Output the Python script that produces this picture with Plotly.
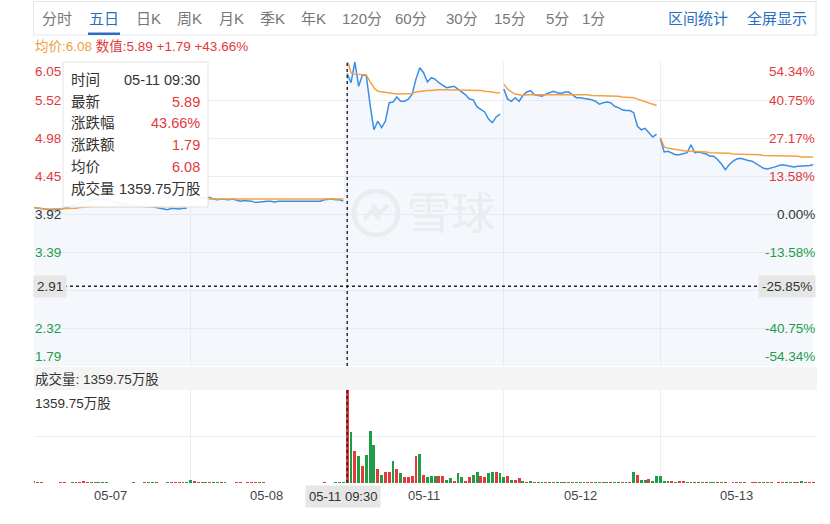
import plotly.graph_objects as go

W, H = 830, 524

# ---------------- data ----------------
days = ["05-07", "05-08", "05-11", "05-12", "05-13"]
prev_close = 3.92          # base of the percentage scale
N_PER_DAY = 41             # one sample every 6 minutes, 09:30 .. 15:00

price_0507 = [4.01, 4.00, 3.99, 3.98, 3.98, 3.98, 3.98, 3.99, 4.00, 4.02,
              4.03, 4.06, 4.07, 4.09, 4.10, 4.12, 4.12, 4.13, 4.12, 4.12,
              4.10, 4.09, 4.07, 4.06, 4.05, 4.04, 4.03, 4.03, 4.03, 4.03,
              4.02, 4.02, 4.01, 4.00, 3.98, 3.98, 4.00, 3.99, 3.99, 4.00, 4.00]
avg_0507 = [4.01, 4.00, 4.00, 3.99, 3.99, 3.99, 3.99, 3.99, 3.99, 3.99,
            4.00, 4.00, 4.01, 4.01, 4.02, 4.02, 4.03, 4.03, 4.03, 4.03,
            4.03, 4.03, 4.03, 4.03, 4.03, 4.03, 4.03, 4.03, 4.03, 4.03,
            4.03, 4.03, 4.02, 4.02, 4.02, 4.02, 4.02, 4.02, 4.02, 4.02, 4.02]

price_0508 = [4.13, 4.14, 4.14, 4.15, 4.15, 4.15, 4.13, 4.12, 4.13, 4.12,
              4.12, 4.13, 4.12, 4.10, 4.11, 4.11, 4.10, 4.08, 4.09, 4.10,
              4.10, 4.10, 4.09, 4.10, 4.10, 4.09, 4.09, 4.09, 4.10, 4.10,
              4.10, 4.10, 4.10, 4.10, 4.10, 4.12, 4.13, 4.13, 4.12, 4.12, 4.10]
avg_0508 = [4.13, 4.13, 4.14, 4.14, 4.14, 4.14, 4.14, 4.14, 4.14, 4.14,
            4.14, 4.14, 4.14, 4.14, 4.14, 4.13, 4.13, 4.13, 4.13, 4.13,
            4.13, 4.13, 4.13, 4.13, 4.13, 4.13, 4.13, 4.13, 4.13, 4.13,
            4.13, 4.13, 4.13, 4.13, 4.13, 4.13, 4.13, 4.13, 4.13, 4.13, 4.13]

price_0511 = [5.89, 5.76, 6.05, 5.71, 5.87, 5.86, 5.45, 5.10, 5.22, 5.13,
              5.22, 5.48, 5.49, 5.56, 5.50, 5.50, 5.53, 5.60, 5.81, 5.97,
              5.90, 5.77, 5.83, 5.81, 5.76, 5.73, 5.69, 5.70, 5.71, 5.67,
              5.63, 5.59, 5.53, 5.52, 5.42, 5.38, 5.35, 5.25, 5.20, 5.28, 5.32]
avg_0511 = [6.08, 5.90, 5.88, 5.88, 5.87, 5.87, 5.77, 5.69, 5.64, 5.63,
            5.62, 5.62, 5.61, 5.60, 5.60, 5.60, 5.60, 5.61, 5.63, 5.64,
            5.64, 5.65, 5.65, 5.66, 5.66, 5.66, 5.66, 5.66, 5.66, 5.66,
            5.66, 5.66, 5.65, 5.65, 5.65, 5.65, 5.64, 5.64, 5.63, 5.62, 5.62]

price_0512 = [5.67, 5.53, 5.50, 5.55, 5.50, 5.58, 5.63, 5.65, 5.59, 5.58,
              5.57, 5.60, 5.62, 5.64, 5.62, 5.61, 5.63, 5.63, 5.59, 5.55,
              5.55, 5.54, 5.54, 5.52, 5.50, 5.46, 5.48, 5.49, 5.48, 5.43,
              5.41, 5.38, 5.37, 5.37, 5.34, 5.15, 5.10, 5.12, 5.06, 5.00, 5.04]
avg_0512 = [5.74, 5.67, 5.63, 5.60, 5.59, 5.58, 5.59, 5.59, 5.60, 5.60,
            5.60, 5.60, 5.60, 5.59, 5.59, 5.59, 5.59, 5.59, 5.59, 5.59,
            5.59, 5.59, 5.59, 5.58, 5.58, 5.58, 5.58, 5.58, 5.58, 5.57,
            5.57, 5.56, 5.56, 5.56, 5.55, 5.53, 5.51, 5.49, 5.47, 5.45, 5.44]

price_0513 = [4.97, 4.79, 4.80, 4.77, 4.75, 4.75, 4.76, 4.78, 4.89, 4.78,
              4.79, 4.78, 4.76, 4.73, 4.73, 4.68, 4.62, 4.54, 4.61, 4.66,
              4.69, 4.70, 4.68, 4.67, 4.66, 4.63, 4.60, 4.56, 4.55, 4.56,
              4.58, 4.60, 4.61, 4.60, 4.59, 4.58, 4.59, 4.59, 4.59, 4.60, 4.61]
avg_0513 = [4.99, 4.86, 4.84, 4.83, 4.82, 4.82, 4.81, 4.80, 4.80, 4.80,
            4.79, 4.79, 4.79, 4.78, 4.78, 4.78, 4.77, 4.77, 4.77, 4.76,
            4.76, 4.76, 4.76, 4.75, 4.75, 4.75, 4.75, 4.74, 4.74, 4.74,
            4.74, 4.74, 4.73, 4.73, 4.73, 4.73, 4.73, 4.72, 4.72, 4.72, 4.72]

# volume in 万股, and whether the interval closed up (1) or down (0)
vol_0507 = [25, 20, 8, 6, 5, 5, 6, 8, 10, 6, 8, 12, 22, 28, 20, 10, 8, 14, 18, 14,
            6, 5, 6, 5, 4, 6, 8, 5, 6, 10, 12, 8, 10, 6, 5, 8, 12, 16, 20, 18, 14]
up_0507 = [1, 0, 1, 0, 0, 1, 0, 1, 1, 1, 0, 1, 1, 1, 1, 0, 1, 0, 0, 0,
           0, 0, 1, 0, 1, 0, 0, 1, 0, 1, 0, 0, 1, 0, 1, 0, 1, 1, 1, 1, 0]
vol_0508 = [40, 30, 12, 8, 10, 8, 14, 18, 12, 8, 6, 5, 8, 10, 6, 12, 16, 18, 14, 8,
            6, 5, 4, 6, 5, 4, 5, 6, 4, 5, 4, 6, 5, 4, 6, 8, 6, 5, 10, 14, 18]
up_0508 = [0, 1, 0, 1, 0, 1, 0, 0, 1, 0, 1, 0, 1, 1, 0, 1, 1, 1, 0, 1,
           0, 1, 0, 1, 0, 1, 0, 1, 0, 1, 1, 0, 1, 0, 1, 1, 0, 1, 0, 0, 0]
vol_0511 = [1359.75, 741, 472, 395, 249, 409, 765, 556, 200, 117,
            156, 156, 326, 200, 151, 85, 92, 97, 390, 429,
            122, 88, 107, 107, 97, 107, 49, 73, 24, 146,
            88, 24, 88, 122, 156, 97, 88, 146, 161, 161, 146]
up_0511 = [1, 0, 1, 0, 1, 0, 0, 0, 1, 0, 1, 1, 0, 1, 0, 1, 1, 1, 1, 0,
           1, 0, 0, 0, 1, 1, 0, 0, 1, 0, 0, 1, 1, 0, 0, 1, 1, 0, 0, 1, 0]
vol_0512 = [88, 107, 49, 40, 75, 24, 20, 24, 18, 22, 15, 12, 10, 14, 18, 12, 10, 8, 12, 15,
            12, 10, 8, 10, 14, 18, 12, 10, 8, 12, 14, 10, 12, 15, 156, 122, 49, 49, 55, 30, 97]
up_0512 = [0, 1, 0, 1, 1, 0, 1, 0, 1, 0, 0, 1, 0, 1, 0, 0, 1, 0, 1, 0,
           0, 1, 0, 1, 0, 0, 1, 0, 1, 0, 0, 1, 0, 1, 0, 1, 0, 0, 1, 0, 0]
vol_0513 = [97, 34, 25, 25, 20, 30, 30, 18, 15, 12, 20, 15, 10, 8, 12, 14, 10, 8, 6, 8,
            10, 12, 8, 6, 10, 12, 8, 10, 12, 8, 6, 10, 12, 14, 10, 8, 12, 34, 14, 10, 12]
up_0513 = [0, 0, 0, 1, 0, 1, 1, 0, 1, 0, 1, 0, 1, 0, 0, 1, 0, 1, 0, 1,
           1, 0, 1, 0, 1, 1, 0, 1, 0, 1, 0, 1, 1, 0, 1, 0, 1, 0, 1, 1, 1]

price_ticks = [6.05, 5.5175, 4.985, 4.4525, 3.92, 3.3875, 2.855, 2.3225, 1.79]
price_tick_labels = ["6.05", "5.52", "4.98", "4.45", "3.92", "3.39", "2.86", "2.32", "1.79"]
pct_tick_labels = ["54.34%", "40.75%", "27.17%", "13.58%", "0.00%",
                   "-13.58%", "-27.17%", "-40.75%", "-54.34%"]
vol_max = 1359.75

tabs = ["分时", "五日", "日K", "周K", "月K", "季K", "年K", "120分", "60分", "30分", "15分", "5分", "1分"]
links = ["区间统计", "全屏显示"]
cursor_day, cursor_idx = 2, 0
cursor_time = "05-11 09:30"
cursor_price = 2.9067

# ---------------- assemble ----------------
prices = [price_0507, price_0508, price_0511, price_0512, price_0513]
avgs = [avg_0507, avg_0508, avg_0511, avg_0512, avg_0513]
vols = [vol_0507, vol_0508, vol_0511, vol_0512, vol_0513]
ups = [up_0507, up_0508, up_0511, up_0512, up_0513]

RED, GREEN, GRAY = "#e3393c", "#1f9c46", "#333333"
BLUE_LINE, ORANGE = "#3a8ee6", "#f5a043"
GRID = "#eceef2"
FONT = "Liberation Sans, Noto Sans CJK SC, sans-serif"
AX_FS = 13.5

def px(x):
    return x / W

def py(y):
    return 1 - y / H

L, R = 34, 817
P_TOP, P_BOT = 62, 366
V_TOP, V_BOT = 390, 483

x_all, y_all, x_line, y_line, y_avg = [], [], [], [], []
vx, vy, vc = [], [], []
for d in range(len(days)):
    for i in range(N_PER_DAY):
        xi = d * N_PER_DAY + i
        x_all.append(xi)
        y_all.append(prices[d][i])
        x_line.append(xi)
        y_line.append(prices[d][i])
        y_avg.append(avgs[d][i])
        vx.append(xi)
        vy.append(vols[d][i])
        vc.append(RED if ups[d][i] else GREEN)
    x_line.append(None)
    y_line.append(None)
    y_avg.append(None)

fig = go.Figure()
fig.add_trace(go.Scatter(x=x_all, y=y_all, mode="lines", line=dict(width=0),
                         fill="tozeroy", fillcolor="rgba(205,222,246,0.22)",
                         hoverinfo="skip", showlegend=False))
fig.add_trace(go.Scatter(x=x_line, y=y_line, mode="lines",
                         line=dict(color=BLUE_LINE, width=1.5), showlegend=False))
fig.add_trace(go.Scatter(x=x_line, y=y_avg, mode="lines",
                         line=dict(color=ORANGE, width=1.5), showlegend=False))
fig.add_trace(go.Bar(x=vx, y=vy, marker=dict(color=vc, line=dict(width=0)),
                     width=0.76, xaxis="x2", yaxis="y2", showlegend=False))

day_bounds = [N_PER_DAY * k for k in range(1, len(days))]
xr = [0, N_PER_DAY * len(days)]

fig.update_layout(
    width=W, height=H, margin=dict(l=0, r=0, t=0, b=0),
    paper_bgcolor="white", plot_bgcolor="white",
    font=dict(family=FONT, size=12, color=GRAY),
    bargap=0, hovermode=False,
    xaxis=dict(domain=[px(L), px(R)], range=xr, tickvals=day_bounds, showticklabels=False,
               showgrid=True, gridcolor=GRID, zeroline=False, showline=False, anchor="y"),
    yaxis=dict(domain=[py(P_BOT), py(P_TOP)], range=[price_ticks[-1], price_ticks[0]],
               tickvals=price_ticks, showticklabels=False, showgrid=True, gridcolor=GRID,
               zeroline=False, showline=False, anchor="x"),
    xaxis2=dict(domain=[px(L), px(R)], range=xr, tickvals=day_bounds, showticklabels=False,
                showgrid=True, gridcolor=GRID, zeroline=False, showline=False, anchor="y2"),
    yaxis2=dict(domain=[py(V_BOT), py(V_TOP)], range=[0, vol_max],
                tickvals=[0, vol_max / 2, vol_max], showticklabels=False, showgrid=True,
                gridcolor=GRID, zeroline=False, showline=False, anchor="x2"),
)

shapes = []
ann = []

# tab bar
shapes.append(dict(type="rect", xref="paper", yref="paper", x0=px(33.5), x1=px(816), y0=py(35), y1=py(1.5),
                   line=dict(color="#e3e5e8", width=1), fillcolor="white", layer="above"))
tab_x = [57, 104, 148, 189, 231, 272, 313, 362, 411, 462, 510, 557, 593]
for t, tx in zip(tabs, tab_x):
    ann.append(dict(text=t, x=px(tx), y=py(18), xref="paper", yref="paper", showarrow=False,
                    xanchor="center", yanchor="middle",
                    font=dict(size=15, color="#2a6fc4" if t == "五日" else "#777777")))
shapes.append(dict(type="rect", xref="paper", yref="paper", x0=px(88), x1=px(120), y0=py(35), y1=py(32.5),
                   line=dict(width=0), fillcolor="#2a6fc4", layer="above"))
for t, tx in zip(links, [698, 777]):
    ann.append(dict(text=t, x=px(tx), y=py(18), xref="paper", yref="paper", showarrow=False,
                    xanchor="center", yanchor="middle", font=dict(size=15, color="#2a6fc4")))

# info line
cp = prices[cursor_day][cursor_idx]
ca = avgs[cursor_day][cursor_idx]
prev_day_close = prices[cursor_day - 1][-1]
chg = cp - prev_day_close
chg_pct = chg / prev_day_close * 100
ann.append(dict(text=(f"<span style='color:#f0a040'>均价:{ca:.2f}</span> "
                      f"<span style='color:{RED}'>数值:{cp:.2f} +{chg:.2f} +{chg_pct:.2f}%</span>"),
                x=px(33), y=py(47), xref="paper", yref="paper", showarrow=False,
                xanchor="left", yanchor="middle", font=dict(size=13.5)))

# axis labels (left price, right percent)
for k, (v, lp, lr) in enumerate(zip(price_ticks, price_tick_labels, pct_tick_labels)):
    if k == 6:
        continue  # hidden under the crosshair label
    col = RED if v > prev_close else (GREEN if v < prev_close else GRAY)
    ya = "top" if k == 0 else ("bottom" if k == len(price_ticks) - 1 else "middle")
    ann.append(dict(text=lp, x=px(33), y=v, xref="paper", yref="y", showarrow=False,
                    xanchor="left", yanchor=ya, font=dict(size=AX_FS, color=col)))
    ann.append(dict(text=lr, x=px(817), y=v, xref="paper", yref="y", showarrow=False,
                    xanchor="right", yanchor=ya, font=dict(size=AX_FS, color=col)))

# date labels
for d, lab in enumerate(days):
    ann.append(dict(text=lab, x=d * N_PER_DAY + (N_PER_DAY - 1) / 2, y=py(495), xref="x2", yref="paper",
                    showarrow=False, xanchor="center", yanchor="middle", font=dict(size=13, color="#444444")))

# volume band
shapes.append(dict(type="rect", xref="paper", yref="paper", x0=px(L), x1=px(R), y0=py(V_TOP), y1=py(P_BOT + 1),
                   line=dict(width=0), fillcolor="#f4f4f5", layer="above"))
ann.append(dict(text=f"成交量: {vols[cursor_day][cursor_idx]:.2f}万股", x=px(33), y=py(378.5), xref="paper",
                yref="paper", showarrow=False, xanchor="left", yanchor="middle", font=dict(size=13.5, color=GRAY)))
ann.append(dict(text=f"{vol_max:.2f}万股", x=px(33), y=py(403), xref="paper", yref="paper", showarrow=False,
                xanchor="left", yanchor="middle", font=dict(size=13.5, color=GRAY)))

# watermark
shapes.append(dict(type="circle", xref="paper", yref="paper", x0=px(354), x1=px(398), y0=py(235), y1=py(191),
                   line=dict(color="#eaecf0", width=5), layer="above"))
shapes.append(dict(type="path", xref="paper", yref="paper",
                   path=(f"M {px(364)},{py(219)} L {px(372)},{py(211)} L {px(380)},{py(219)} "
                         f"M {px(372)},{py(205)} L {px(380)},{py(213)} L {px(388)},{py(205)}"),
                   line=dict(color="#eaecf0", width=4), layer="above"))
ann.append(dict(text="雪球", x=px(451), y=py(213), xref="paper", yref="paper", showarrow=False,
                xanchor="center", yanchor="middle", font=dict(size=44, color="#eaecf0")))

# crosshair
cx = cursor_day * N_PER_DAY + cursor_idx
for y0, y1 in [(P_TOP, P_BOT), (V_TOP, V_BOT)]:
    shapes.append(dict(type="line", xref="x", yref="paper", x0=cx, x1=cx, y0=py(y1), y1=py(y0),
                       line=dict(color="#222222", width=1.4, dash="dot"), layer="above"))
shapes.append(dict(type="line", xref="paper", yref="y", x0=px(L), x1=px(763), y0=cursor_price, y1=cursor_price,
                   line=dict(color="#222222", width=1.4, dash="dot"), layer="above"))
cur_pct = (cursor_price - prev_close) / prev_close * 100
ann.append(dict(text=f"{cursor_price:.2f}", x=px(33), y=cursor_price, xref="paper", yref="y", showarrow=False,
                xanchor="left", yanchor="middle", bgcolor="#e6e6e6", borderpad=3,
                font=dict(size=AX_FS, color=GRAY)))
ann.append(dict(text=f"{cur_pct:.2f}%", x=px(816), y=cursor_price, xref="paper", yref="y", showarrow=False,
                xanchor="right", yanchor="middle", bgcolor="#e6e6e6", borderpad=3,
                font=dict(size=AX_FS, color=GRAY)))
ann.append(dict(text=cursor_time, x=cx, y=py(496), xref="x2", yref="paper", showarrow=False, xshift=-4,
                xanchor="center", yanchor="middle", bgcolor="#e6e6e6", borderpad=3,
                font=dict(size=13, color=GRAY)))

# tooltip
shapes.append(dict(type="rect", xref="paper", yref="paper", x0=px(63), x1=px(208), y0=py(207), y1=py(62),
                   line=dict(color="#e2e2e2", width=1), fillcolor="rgba(255,255,255,0.93)", layer="above"))
tip_rows = [
    ("时间", cursor_time, GRAY),
    ("最新", f"{cp:.2f}", RED),
    ("涨跌幅", f"{chg_pct:.2f}%", RED),
    ("涨跌额", f"{chg:.2f}", RED),
    ("均价", f"{ca:.2f}", RED),
    ("成交量", f"{vols[cursor_day][cursor_idx]:.2f}万股", GRAY),
]
for k, (lab, val, col) in enumerate(tip_rows):
    yy = 80 + 21.7 * k
    ann.append(dict(text=lab, x=px(69), y=py(yy), xref="paper", yref="paper", showarrow=False,
                    xanchor="left", yanchor="middle", font=dict(size=14.5, color=GRAY)))
    ann.append(dict(text=val, x=px(202), y=py(yy), xref="paper", yref="paper", showarrow=False,
                    xanchor="right", yanchor="middle", font=dict(size=14.5, color=col)))

fig.update_layout(shapes=shapes, annotations=ann)
fig.write_html("out.html", config={"displayModeBar": False, "staticPlot": True},
               post_script="document.body.style.margin='0';document.body.style.padding='0';")
